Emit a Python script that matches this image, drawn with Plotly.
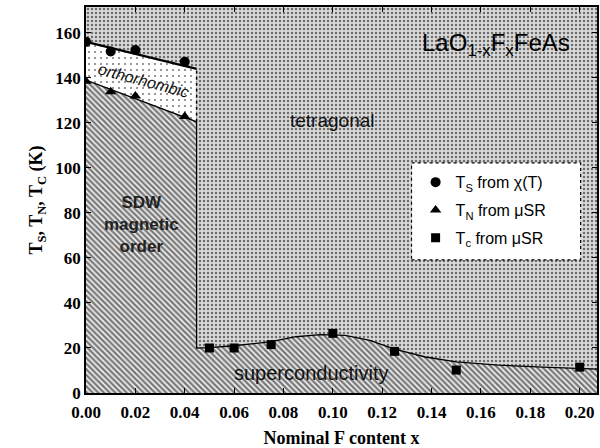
import plotly.graph_objects as go

# axis extents
x_range = [0.0, 0.207]
y_range = [0.0, 171.5]

# measured transition temperatures
ts_x = [0.0, 0.01, 0.02, 0.04]
ts_y = [156.0, 151.7, 152.4, 147.2]
tn_x = [0.0, 0.01, 0.02, 0.04]
tn_y = [138.5, 133.9, 132.0, 122.8]
tc_x = [0.05, 0.06, 0.075, 0.10, 0.125, 0.15, 0.20]
tc_y = [20.0, 20.0, 21.5, 26.5, 18.5, 10.2, 11.5]

# phase boundaries
x_edge = 0.0448
ts_line_x = [0.0, x_edge]
ts_line_y = [156.0, 144.0]
tn_line_x = [0.0, 0.04, x_edge]
tn_line_y = [139.0, 122.5, 120.5]
tc_line_x = [x_edge, 0.05, 0.06, 0.075, 0.085, 0.095, 0.105, 0.115, 0.125,
             0.1375, 0.15, 0.167, 0.185, 0.20, 0.207]
tc_line_y = [20.0, 20.2, 21.0, 22.8, 25.0, 25.9, 25.6, 23.4, 19.5,
             16.0, 13.8, 12.4, 11.5, 11.0, 10.6]

x_ticks = [0.00, 0.02, 0.04, 0.06, 0.08, 0.10, 0.12, 0.14, 0.16, 0.18, 0.20]
y_ticks = [0, 20, 40, 60, 80, 100, 120, 140, 160]

serif = "Liberation Serif"
sans = "Liberation Sans"

fig = go.Figure()

# tetragonal background (dense stipple)
fig.add_trace(go.Scatter(
    x=[x_range[0], x_range[1], x_range[1], x_range[0], x_range[0]],
    y=[y_range[0], y_range[0], y_range[1], y_range[1], y_range[0]],
    mode="none", fill="toself",
    fillpattern=dict(shape=".", size=4, solidity=0.3, fgcolor="black", bgcolor="#dadada"),
    showlegend=False, hoverinfo="skip"))

# orthorhombic region (sparse stipple)
fig.add_trace(go.Scatter(
    x=ts_line_x + tn_line_x[::-1],
    y=ts_line_y + tn_line_y[::-1],
    mode="none", fill="toself",
    fillpattern=dict(shape=".", size=6, solidity=0.1, fgcolor="black", bgcolor="white"),
    showlegend=False, hoverinfo="skip"))

# SDW order + superconductivity (hatched)
fig.add_trace(go.Scatter(
    x=tn_line_x + tc_line_x + [x_range[1], x_range[0]],
    y=tn_line_y + tc_line_y + [y_range[0], y_range[0]],
    mode="none", fill="toself",
    fillpattern=dict(shape="\\", size=4, solidity=0.6, fgcolor="black", bgcolor="#f4f4f4"),
    showlegend=False, hoverinfo="skip"))

# boundary lines
fig.add_trace(go.Scatter(x=ts_line_x, y=ts_line_y, mode="lines",
                         line=dict(color="black", width=2.2),
                         showlegend=False, hoverinfo="skip"))
fig.add_trace(go.Scatter(x=tn_line_x + tc_line_x, y=tn_line_y + tc_line_y, mode="lines",
                         line=dict(color="black", width=1.3),
                         showlegend=False, hoverinfo="skip"))
fig.add_trace(go.Scatter(x=[x_edge, x_edge], y=[tn_line_y[-1], ts_line_y[-1]], mode="lines",
                         line=dict(color="black", width=1.5, dash="dot"),
                         showlegend=False, hoverinfo="skip"))

# data points
fig.add_trace(go.Scatter(x=ts_x, y=ts_y, mode="markers", legendgroup="ts",
                         marker=dict(symbol="circle", size=10, color="black"),
                         name="T<sub>S</sub> from χ(T)"))
fig.add_trace(go.Scatter(x=tn_x, y=tn_y, mode="markers", legendgroup="tn",
                         marker=dict(symbol="triangle-up", size=10, color="black"),
                         name="T<sub>N</sub> from μSR"))
fig.add_trace(go.Scatter(x=tc_x, y=tc_y, mode="markers", legendgroup="tc",
                         marker=dict(symbol="square", size=9, color="black"),
                         name="T<sub>c</sub> from μSR"))

# legend frame
fig.add_shape(type="rect", xref="paper", yref="paper",
              x0=0.637, x1=0.968, y0=0.345, y1=0.596,
              fillcolor="white", line=dict(color="black", width=1.2, dash="dot"),
              layer="above")

annots = [
    dict(x=0.197, y=155, text="LaO<sub>1-x</sub>F<sub>x</sub>FeAs",
         font=dict(family=sans, size=24, color="black"), xanchor="right"),
    dict(x=0.1, y=121, text="tetragonal", font=dict(family=sans, size=19, color="#111")),
    dict(x=0.0915, y=9, text="superconductivity", font=dict(family=sans, size=20, color="#111")),
    dict(x=0.0225, y=75, text="<b>SDW<br>magnetic<br>order</b>",
         font=dict(family=sans, size=17, color="#222")),
    dict(x=0.0232, y=139, text="<i>orthorhombic</i>", textangle=15,
         font=dict(family=sans, size=16, color="#111")),
]
for a in annots:
    fig.add_annotation(showarrow=False, xref="x", yref="y", **a)

axis_common = dict(
    showgrid=False, zeroline=False, showline=True, linecolor="black",
    mirror="ticks", ticks="inside", ticklen=5, tickwidth=1.3, tickcolor="black",
    tickfont=dict(family=serif, size=17, color="black"),
)

fig.update_xaxes(range=x_range, tickvals=x_ticks,
                 ticktext=["<b>%.2f</b>" % v for v in x_ticks], linewidth=2,
                 ticklabelstandoff=3,
                 title=dict(text="<b>Nominal F content x</b>",
                            font=dict(family=serif, size=18, color="black"), standoff=10),
                 **axis_common)
fig.update_yaxes(range=y_range, tickvals=y_ticks,
                 ticktext=["<b>%d</b>" % v for v in y_ticks], linewidth=1.6,
                 title=dict(text="<b>T<sub>S</sub>, T<sub>N</sub>, T<sub>C</sub> (K)</b>",
                            font=dict(family=serif, size=18, color="black"), standoff=8),
                 **axis_common)

fig.update_layout(
    width=600, height=448, autosize=False,
    margin=dict(l=86, r=1, t=7, b=55),
    paper_bgcolor="white", plot_bgcolor="white",
    legend=dict(x=0.645, y=0.59, xanchor="left", yanchor="top",
                bgcolor="rgba(0,0,0,0)", borderwidth=0,
                font=dict(family=sans, size=16, color="black"),
                tracegroupgap=4, itemwidth=30),
)

fig.write_html("out.html")
